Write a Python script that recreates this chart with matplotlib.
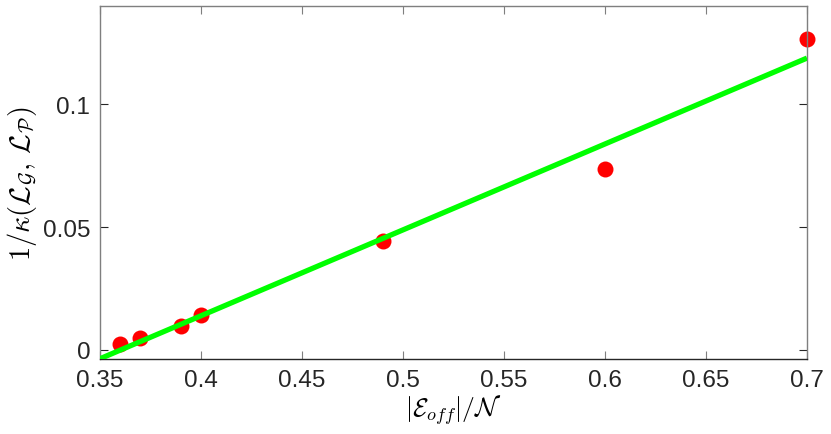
import numpy as np
import matplotlib
matplotlib.use("Agg")
import matplotlib.pyplot as plt

# data
x_pts = [0.36, 0.37, 0.39, 0.40, 0.49, 0.60, 0.70]
y_pts = [0.0024, 0.0049, 0.0098, 0.0142, 0.0443, 0.0736, 0.1264]

x_ticks = [0.35, 0.4, 0.45, 0.5, 0.55, 0.6, 0.65, 0.7]
x_ticklabels = ["0.35", "0.4", "0.45", "0.5", "0.55", "0.6", "0.65", "0.7"]
y_ticks = [0, 0.05, 0.1]
y_ticklabels = ["0", "0.05", "0.1"]

plt.rcParams['font.family'] = ['Liberation Sans', 'DejaVu Sans']
plt.rcParams['mathtext.fontset'] = 'cm'

fig = plt.figure(figsize=(8.31, 4.35), dpi=100)
ax = fig.add_axes([0.1203, 0.1724, 0.8508, 0.8115])

# linear fit
p = np.polyfit(x_pts, y_pts, 1)
xl = np.array([0.35, 0.70])
ax.plot(xl, np.polyval(p, xl), color='#00ff00', lw=3.8, solid_capstyle='butt', zorder=3)
ax.plot(x_pts, y_pts, 'o', color='red', ms=11.5, mec='none', zorder=2, clip_on=False)

ax.set_xlim(0.35, 0.70)
ax.set_ylim(-0.0037, 0.14)
ax.set_xticks(x_ticks)
ax.set_xticklabels(x_ticklabels)
ax.set_yticks(y_ticks)
ax.set_yticklabels(y_ticklabels)

gray = '#7f7f7f'
for s in ['left', 'top', 'right']:
    ax.spines[s].set_color(gray)
ax.spines['bottom'].set_color('#262626')
for s in ax.spines.values():
    s.set_linewidth(1.0)
ax.tick_params(direction='in', length=6, labelsize=17.5, colors='#262626', pad=7,
               top=True, right=True)
ax.tick_params(axis='x', color=gray)

ax.set_xlabel(r'$|\mathcal{E}_{off}|/\mathcal{N}$', fontsize=18.5, labelpad=1)
ax.set_ylabel(r'$1/\kappa(\mathcal{L}_\mathcal{G},\,\mathcal{L}_\mathcal{P})$', fontsize=20.5, labelpad=3)

fig.savefig("out.png", dpi=100)
